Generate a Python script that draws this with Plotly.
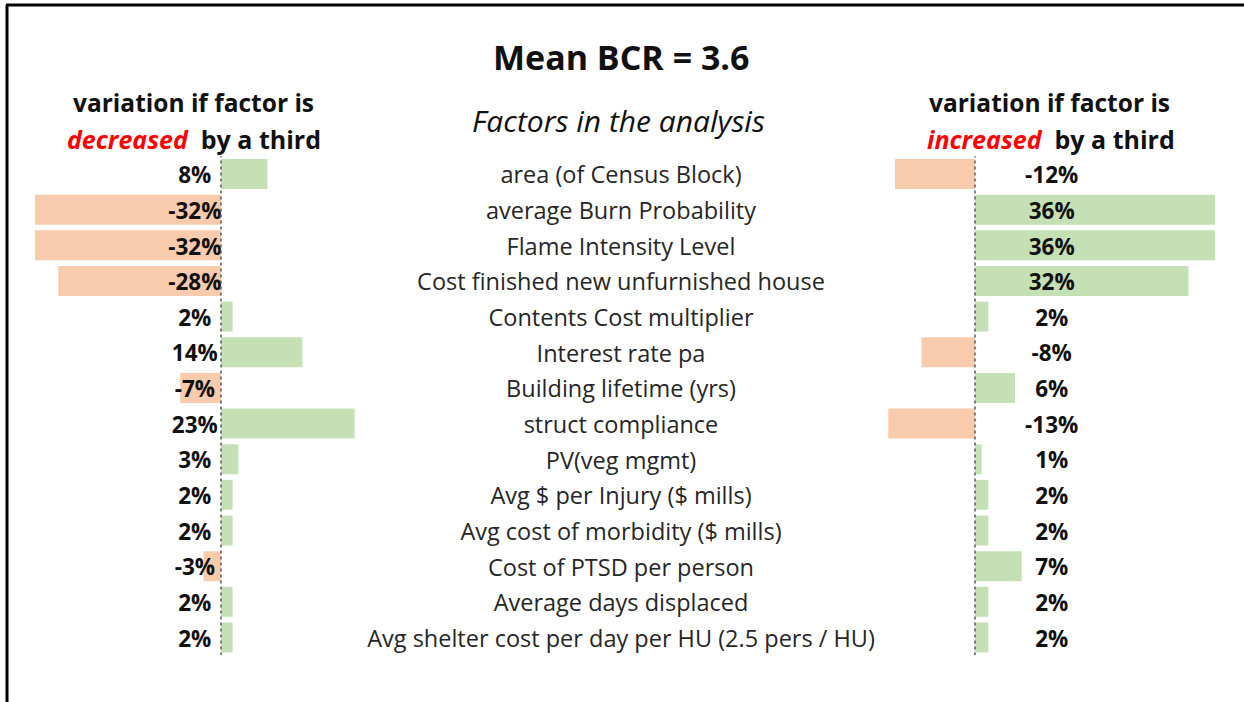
import plotly.graph_objects as go

factors = [
    "area (of Census Block)",
    "average Burn Probability",
    "Flame Intensity Level",
    "Cost finished new unfurnished house",
    "Contents Cost multiplier",
    "Interest rate pa",
    "Building lifetime (yrs)",
    "struct compliance",
    "PV(veg mgmt)",
    "Avg $ per Injury ($ mills)",
    "Avg cost of morbidity ($ mills)",
    "Cost of PTSD per person",
    "Average days displaced",
    "Avg shelter cost per day per HU (2.5 pers / HU)",
]
decreased = [8, -32, -32, -28, 2, 14, -7, 23, 3, 2, 2, -3, 2, 2]
increased = [-12, 36, 36, 32, 2, -8, 6, -13, 1, 2, 2, 7, 2, 2]

FONT = "Open Sans"
GREEN = "#C5E0B4"
ORANGE = "#F8CBAD"
W, H = 1244, 702

rows = list(range(len(factors)))
# text sits a touch below the bar centre in the original
text_rows = [r + 0.1 for r in rows]


def colours(vals):
    return [GREEN if v >= 0 else ORANGE for v in vals]


def pct(vals):
    return [f"{v}%" for v in vals]


fig = go.Figure()

# bars
fig.add_trace(go.Bar(x=decreased, y=rows, orientation="h", width=0.84,
                     marker=dict(color=colours(decreased), line=dict(width=0)),
                     xaxis="x", yaxis="y", hoverinfo="skip"))
fig.add_trace(go.Bar(x=increased, y=rows, orientation="h", width=0.84,
                     marker=dict(color=colours(increased), line=dict(width=0)),
                     xaxis="x2", yaxis="y", hoverinfo="skip"))

# value labels, fixed column next to the zero line
fig.add_trace(go.Scatter(x=[-4.5] * len(rows), y=text_rows, mode="text", text=pct(decreased),
                         textfont=dict(family=FONT, size=22.5, color="#111111", weight="bold"),
                         xaxis="x", yaxis="y", hoverinfo="skip", cliponaxis=False))
fig.add_trace(go.Scatter(x=[11.5] * len(rows), y=text_rows, mode="text", text=pct(increased),
                         textfont=dict(family=FONT, size=22.5, color="#111111", weight="bold"),
                         xaxis="x2", yaxis="y", hoverinfo="skip", cliponaxis=False))

# factor names in the middle column
fig.add_trace(go.Scatter(x=[0.5] * len(rows), y=text_rows, mode="text", text=factors,
                         textfont=dict(family=FONT, size=23.5, color="#262626"),
                         xaxis="x3", yaxis="y", hoverinfo="skip", cliponaxis=False))

# dotted zero lines
for xr in ("x", "x2"):
    fig.add_shape(type="line", xref=xr, yref="y", x0=0, x1=0, y0=-0.55, y1=13.55,
                  line=dict(color="#595959", width=1.5, dash="dot"), layer="above")

# frame (top and left edges only)
fig.add_shape(type="line", xref="paper", yref="paper", x0=6 / W, x1=1, y0=1 - 5 / H, y1=1 - 5 / H,
              line=dict(color="black", width=3))
fig.add_shape(type="line", xref="paper", yref="paper", x0=7 / W, x1=7 / W, y0=0, y1=1 - 5 / H,
              line=dict(color="black", width=3))

ann = [
    dict(x=621 / W, y=1 - 57 / H, text="<b>Mean BCR = 3.6</b>", size=34),
    dict(x=618 / W, y=1 - 120 / H, text="<i>Factors in the analysis</i>", size=30),
    dict(x=193 / W, y=1 - 102 / H, text="<b>variation if factor is</b>", size=24.5),
    dict(x=194 / W, y=1 - 139 / H,
         text="<b><i><span style='color:#FF0000'>decreased</span></i>  by a third</b>", size=25),
    dict(x=1049 / W, y=1 - 102 / H, text="<b>variation if factor is</b>", size=24.5),
    dict(x=1051 / W, y=1 - 139 / H,
         text="<b><i><span style='color:#FF0000'>increased</span></i>  by a third</b>", size=25),
]
for a in ann:
    fig.add_annotation(x=a["x"], y=a["y"], xref="paper", yref="paper", text=a["text"],
                       showarrow=False, xanchor="center", yanchor="middle",
                       font=dict(family=FONT, size=a["size"], color="#111111"))

hidden = dict(showgrid=False, zeroline=False, showticklabels=False, ticks="", fixedrange=True)
fig.update_layout(
    width=W, height=H,
    margin=dict(l=0, r=0, t=0, b=0),
    paper_bgcolor="white", plot_bgcolor="rgba(0,0,0,0)",
    showlegend=False,
    barmode="overlay",
    xaxis=dict(domain=[30 / W, 370 / W], range=[-32.87, 25.65], anchor="y", **hidden),
    xaxis2=dict(domain=[880 / W, 1230 / W], range=[-14.24, 38.23], anchor="y", **hidden),
    xaxis3=dict(domain=[370 / W, 872 / W], range=[0, 1], anchor="y", **hidden),
    yaxis=dict(domain=[1 - 655.3 / H, 1 - 156.2 / H], range=[13.5, -0.5], **hidden),
)

# the page's default body margin would push the chart 8px down and right
fig.write_html("out.html", config={"displayModeBar": False},
               post_script="document.body.style.margin = '0';")
